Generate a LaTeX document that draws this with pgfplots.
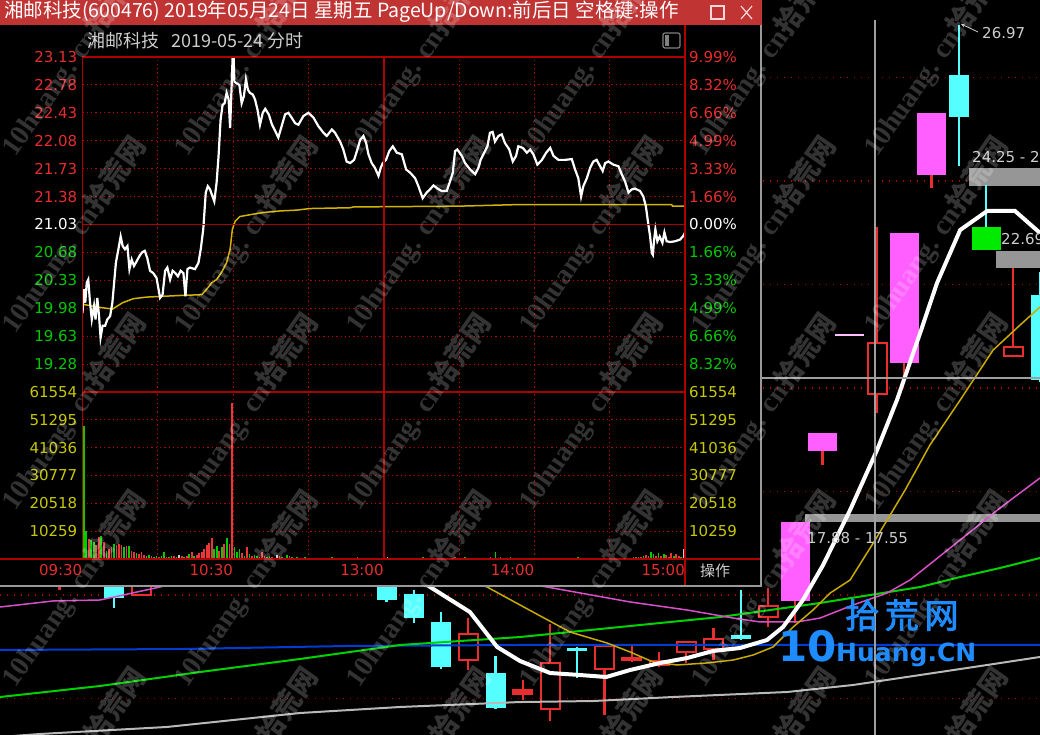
\documentclass[border=0pt]{standalone}
\usepackage{fontspec}
\setmainfont{DejaVu Sans}
\newfontfamily\cjk{Noto Sans CJK SC}
\newfontfamily\cjkb[FakeBold=2.5]{Noto Sans CJK SC}
\newfontfamily\wm{Liberation Serif}
\usepackage{pgfplots}
\pgfplotsset{compat=1.18}

\definecolor{titlered}{RGB}{192,52,52}
\definecolor{frame}{RGB}{175,0,0}
\definecolor{lred}{RGB}{230,45,45}
\definecolor{lgreen}{RGB}{0,200,0}
\definecolor{lyel}{RGB}{200,200,0}
\definecolor{lgray}{RGB}{205,205,205}
\definecolor{avgc}{RGB}{210,180,0}
\definecolor{vred}{RGB}{235,55,55}
\definecolor{vgreen}{RGB}{0,205,0}
\definecolor{cred}{RGB}{235,45,45}
\definecolor{ccyan}{RGB}{85,255,255}
\definecolor{cmag}{RGB}{255,95,255}
\definecolor{cgreen}{RGB}{0,235,0}
\definecolor{ma2}{RGB}{200,170,0}
\definecolor{ma3}{RGB}{215,80,200}
\definecolor{ma4}{RGB}{0,210,0}
\definecolor{ma5}{RGB}{0,60,210}
\definecolor{ma6}{RGB}{185,185,185}
\definecolor{gapgray}{RGB}{150,150,150}
\definecolor{logo}{RGB}{30,140,255}

\newcommand\lab{\fontsize{15}{15}\selectfont}

\pgfplotsset{
  popaxis/.style={scale only axis, width=602.5pt, xmin=0, xmax=240,
    axis line style={draw=none}, major tick length=0pt, clip=true, scaled y ticks=false},
  popgrid/.style={draw=frame, line width=1pt, dash pattern=on 1.3pt off 3pt},
}

\begin{document}
\begin{tikzpicture}[x=1pt,y=1pt]
\useasboundingbox (0,0) rectangle (1040,735);
\clip (0,0) rectangle (1040,735);
\fill[black] (0,0) rectangle (1040,735);

% ---------- daily candle chart behind the window ----------
\begin{axis}[at={(0pt,0pt)}, anchor=south west, scale only axis, width=1040pt, height=735pt,
  xmin=-4.183, xmax=33.98, ymin=13.513, ymax=27.444, unbounded coords=jump,
  axis line style={draw=none}, major tick length=0pt, xtick=\empty,
  ytick={14.205,16.166,18.128,20.090,22.052,24.013,25.975}, yticklabels={},
  ymajorgrids, major grid style={draw=frame, line width=1.2pt, dash pattern=on 1.2pt off 5.8pt}]

\fill[gapgray] (axis cs:31.38,23.919) rectangle (axis cs:35,24.260);
\fill[gapgray] (axis cs:32.37,22.365) rectangle (axis cs:35,22.687);
\fill[gapgray] (axis cs:25.36,17.550) rectangle (axis cs:35,17.702);

% wicks
\addplot[cred, line width=2.2pt] coordinates {(-2,16.261) (-2,16.925) (-2,nan) (1,16.147) (1,16.830) (1,nan) (13,14.745) (13,15.730) (13,nan) (15,14.176) (15,14.555) (15,nan) (16,13.778) (16,15.617) (16,nan) (18,13.892) (18,15.219) (18,nan) (19,14.897) (19,15.219) (19,nan) (20,14.802) (20,15.086) (20,nan) (21,14.877) (21,15.294) (21,nan) (22,14.934) (22,15.541) (22,nan) (24,15.560) (24,16.299) (24,nan) (25,15.636) (25,16.053) (25,nan) (26,18.630) (26,18.896) (26,nan) (28,19.62) (28,23.15) (28,nan) (29,20.298) (29,20.564) (29,nan) (30,23.881) (30,24.127) (30,nan) (33,20.677) (33,22.364)};
\addplot[ccyan, line width=2.2pt] coordinates {(0,15.920) (0,17.019) (0,nan) (10,16.034) (10,16.735) (10,nan) (11,15.636) (11,16.261) (11,nan) (12,14.764) (12,15.844) (12,nan) (14,14.006) (14,15.010) (14,nan) (17,14.593) (17,15.181) (17,nan) (23,15.313) (23,16.261) (23,nan) (31,24.298) (31,26.97) (31,nan) (32,23.141) (32,23.938) (32,nan) (34,20.203) (34,22.289)};
% bodies
\addplot[ccyan, line width=20pt] coordinates {(0,16.110) (0,16.830) (0,nan) (10,16.072) (10,16.640) (10,nan) (11,15.730) (11,16.185) (11,nan) (12,14.802) (12,15.655) (12,nan) (14,14.025) (14,14.688) (14,nan) (17,15.105) (17,15.162) (17,nan) (23,15.332) (23,15.408) (23,nan) (31,25.226) (31,26.022) (31,nan) (34,20.241) (34,21.853)};
\addplot[cred, line width=21pt] coordinates {(-2,16.318) (-2,16.830) (-2,nan) (1,16.147) (1,16.735) (1,nan) (13,14.915) (13,15.446) (13,nan) (15,14.271) (15,14.385) (15,nan) (16,13.987) (16,14.897) (16,nan) (18,14.745) (18,15.219) (18,nan) (19,14.915) (19,14.991) (19,nan) (20,14.821) (20,14.934) (20,nan) (21,15.067) (21,15.294) (21,nan) (22,15.124) (22,15.351) (22,nan) (24,15.730) (24,15.977) (24,nan) (28,19.96) (28,20.96) (28,nan) (33,20.677) (33,20.886)};
\addplot[black, line width=17pt] coordinates {(-2,16.356) (-2,16.792) (-2,nan) (1,16.185) (1,16.697) (1,nan) (13,14.953) (13,15.408) (13,nan) (16,14.025) (16,14.859) (16,nan) (18,14.783) (18,15.181) (18,nan) (20,14.859) (20,14.896) (20,nan) (21,15.105) (21,15.256) (21,nan) (22,15.162) (22,15.313) (22,nan) (24,15.768) (24,15.939) (24,nan) (28,19.998) (28,20.922) (28,nan) (33,20.715) (33,20.848)};
\addplot[cmag, line width=29pt] coordinates {(25,16.053) (25,17.550) (25,nan) (26,18.896) (26,19.237) (26,nan) (29,20.564) (29,23.028) (29,nan) (30,24.127) (30,25.302)};
\addplot[cgreen, line width=29pt] coordinates {(32,22.705) (32,23.141)};
\addplot[cmag!40!white, line width=29pt] coordinates {(27,21.08) (27,21.12)};

% moving averages
\addplot[ma6, line width=2pt] coordinates {(-4.18,13.475) (-2.72,13.532) (1.94,13.665) (6.83,13.930) (10.50,14.044) (14.90,14.138) (17.58,14.157) (20.51,14.233) (24.70,14.328) (27.12,14.461) (29.58,14.650) (32.04,14.840) (33.98,14.992)};
\addplot[ma5, line width=2pt] coordinates {(-4.18,15.124) (2.53,15.143) (8.55,15.200) (14.90,15.219) (33.98,15.219)};
\addplot[ma4, line width=2pt] coordinates {(-4.18,14.233) (-0.51,14.442) (3.16,14.707) (6.83,14.954) (10.50,15.219) (14.90,15.370) (18.57,15.560) (22.24,15.749) (25.91,16.015) (29.58,16.318) (31.05,16.507) (32.51,16.678) (33.98,16.868)};
\addplot[ma3, line width=1.5pt] coordinates {(-4.18,15.939) (-2.24,16.053) (-0.51,16.072) (1.69,16.318) (4.99,16.735) (8.66,16.830) (13.06,16.545) (15.89,16.318) (18.94,16.034) (21.03,15.882) (22.72,15.730) (23.71,15.655) (25.06,15.655) (25.91,15.730) (27.12,15.977) (28.37,16.204) (29.21,16.451) (30.68,17.057) (32.51,17.816) (33.98,18.384)};
\addplot[ma2, line width=1.5pt] coordinates {(13.06,16.451) (13.69,16.318) (14.90,15.977) (16.73,15.465) (18.09,15.257) (18.94,15.086) (19.78,14.897) (20.66,14.840) (21.76,14.878) (22.72,14.934) (23.45,15.029) (24.18,15.181) (24.92,15.560) (25.65,15.882) (26.28,16.204) (27.01,16.451) (27.93,17.209) (29.03,18.157) (29.94,19.009) (31.05,19.862) (32.26,20.810) (33.25,21.284) (33.98,21.625)};
\addplot[white, line width=4pt] coordinates {(11.05,16.545) (11.60,16.318) (13.06,15.844) (14.06,15.181) (14.90,14.915) (16.0,14.688) (17.10,14.650) (18.06,14.612) (18.94,14.745) (20.04,14.878) (21.03,14.972) (21.98,15.105) (22.97,15.162) (23.96,15.313) (24.55,15.560) (25.28,16.072) (26.02,16.735) (27.01,17.777) (28.0,18.915) (28.73,19.862) (29.58,21.132) (30.20,22.080) (31.05,23.085) (32.04,23.445) (33.06,23.445) (33.98,23.028)};
\end{axis}

\draw[gray!75, line width=1.5pt] (875,0) -- (875,715);
\draw[gray!75, line width=1.5pt] (762,357) -- (1040,357);
\draw[lgray, line width=0.8pt, -stealth] (978,703) -- (961,711);
\node[anchor=west, text=lgray, font=\lab, inner sep=0pt] at (982,702) {26.97};
\node[anchor=west, text=lgray, font=\lab, inner sep=0pt] at (972,578) {24.25 - 23.92};
\node[anchor=west, text=lgray, font=\lab, inner sep=0pt] at (1001,496) {22.69 - 22.37};
\node[anchor=west, text=lgray, font=\lab, inner sep=0pt] at (807,197) {17.88 - 17.55};

% ---------- intraday window ----------
\fill[black] (0,149) rectangle (761,735);
\fill[titlered] (0,710) rectangle (762,735);
\node[anchor=west, text=white, inner sep=0pt, font=\cjk\fontsize{19.5}{19.5}\selectfont] at (4,723) {湘邮科技(600476) 2019年05月24日 星期五 PageUp/Down:前后日 空格键:操作};
\draw[white!85!red, line width=1.2pt] (711,716) rectangle (724,729);
\draw[white!85!red, line width=1.2pt] (741,716) -- (752,729) (741,729) -- (752,716);
\node[anchor=west, text=lgray, inner sep=0pt, font=\cjk\fontsize{18}{18}\selectfont] at (87,694) {湘邮科技\hspace{12pt}2019-05-24 分时};
\draw[gray, line width=1.2pt, rounded corners=2pt] (663,687) rectangle (680,702);
\fill[gray] (665,689) rectangle (669,700);

\begin{axis}[popaxis, at={(82.5pt,343pt)}, anchor=south west, height=335pt, ymin=18.93, ymax=23.13,
  xtick={0,30,...,240}, xticklabels={},
  ytick={19.28,19.63,19.98,20.33,20.68,21.03,21.38,21.73,22.08,22.43,22.78,23.13},
  yticklabels={{\color{lgreen}19.28},{\color{lgreen}19.63},{\color{lgreen}19.98},{\color{lgreen}20.33},{\color{lgreen}20.68},{\color{white}21.03},{\color{lred}21.38},{\color{lred}21.73},{\color{lred}22.08},{\color{lred}22.43},{\color{lred}22.78},{\color{lred}23.13}},
  yticklabel style={font=\lab, inner sep=0pt, xshift=-5pt},
  grid=major, major grid style={popgrid}]
\addplot[avgc, line width=1.5pt] coordinates {(0,20.03) (7,19.99) (12,19.97) (16,20.05) (20.3,20.10) (25.6,20.12) (32.2,20.13) (38.8,20.14) (47.5,20.15) (49.5,20.22) (51.5,20.30) (53.4,20.34) (55.4,20.43) (57.4,20.55) (58.8,20.72) (59.7,20.97) (60.8,21.07) (62.7,21.13) (68.1,21.16) (72,21.18) (78.7,21.20) (85.3,21.21) (90.6,21.23) (106.6,21.24) (108,21.25) (150,21.26) (174,21.28) (234.7,21.28) (235,21.26) (240,21.26)};
\addplot[white, line width=2.2pt] coordinates {(0,19.92) (0.6,20.22) (1.1,20.05) (1.7,20.30) (2.3,20.34) (3.0,20.05) (3.7,19.84) (4.6,20.01) (5.2,19.84) (5.9,20.11) (6.6,19.88) (7.2,19.61) (8.0,19.76) (9.0,19.76) (9.9,19.84) (11.0,19.88) (11.9,20.05) (12.6,20.30) (13.3,20.55) (14.3,20.72) (15.2,20.88) (16.0,20.76) (16.9,20.72) (17.9,20.76) (18.7,20.47) (19.6,20.59) (20.5,20.51) (21.6,20.57) (22.6,20.63) (23.7,20.68) (24.8,20.70) (25.8,20.61) (26.9,20.45) (28.2,20.42) (29.5,20.36) (30.9,20.11) (31.9,20.15) (32.9,20.45) (33.8,20.49) (34.9,20.34) (35.9,20.45) (37.0,20.42) (38.0,20.38) (39.1,20.45) (40.2,20.42) (41.0,20.13) (41.8,20.47) (42.8,20.49) (44.8,20.47) (46.2,20.55) (47.1,20.72) (48.1,20.97) (49.1,21.43) (49.9,21.51) (50.8,21.47) (51.7,21.39) (52.5,21.32) (53.4,21.55) (54.2,21.89) (55.0,22.34) (55.8,22.53) (56.6,22.55) (57.4,22.68) (58.2,22.60) (58.8,22.24) (59.4,22.76) (59.8,23.13) (60.2,23.13) (60.5,22.82) (61.4,22.80) (62.5,22.78) (63.4,22.55) (64.3,22.64) (65.1,22.85) (65.9,22.72) (66.7,22.68) (67.8,22.66) (68.7,22.60) (69.7,22.47) (70.7,22.28) (71.8,22.43) (72.8,22.48) (74.2,22.41) (75.5,22.28) (76.8,22.20) (78.0,22.12) (79.3,22.26) (80.7,22.41) (82.0,22.43) (83.3,22.37) (84.7,22.30) (86.0,22.28) (88.0,22.39) (90.0,22.43) (92.0,22.37) (94.0,22.26) (96.0,22.18) (97.3,22.14) (99.3,22.22) (100.6,22.18) (102.6,22.07) (103.9,21.97) (105.2,21.82) (106.6,21.80) (108.2,21.84) (109.5,21.97) (110.6,22.09) (111.9,22.14) (113.0,22.05) (113.9,21.91) (115.2,21.80) (116.5,21.74) (117.9,21.64) (118.8,21.74) (119.6,21.80) (120.9,21.84) (122.2,21.95) (123.6,22.01) (125.2,21.93) (127.2,21.91) (128.9,21.72) (130.5,21.68) (132.5,21.61) (133.8,21.51) (135.5,21.36) (137.1,21.43) (138.4,21.47) (139.8,21.52) (141.4,21.48) (143.1,21.45) (145.1,21.45) (146.4,21.57) (147.5,21.68) (148.4,21.95) (149.3,21.97) (151.1,21.89) (152.4,21.80) (154.4,21.72) (156.4,21.66) (157.7,21.74) (158.6,21.84) (160.0,21.93) (161.3,22.01) (162.3,22.18) (163.4,22.19) (164.3,22.07) (165.7,22.14) (167.0,22.16) (168.3,22.05) (170.0,21.97) (171.4,21.82) (172.7,21.89) (173.6,22.01) (175.4,21.99) (177.0,21.93) (178.3,21.97) (179.6,21.91) (181.2,21.78) (183.0,21.84) (184.7,21.93) (186.3,21.99) (187.6,21.89) (189.6,21.84) (192.2,21.84) (194.9,21.85) (196.2,21.72) (197.5,21.61) (198.6,21.38) (199.5,21.51) (200.9,21.61) (202.2,21.74) (203.5,21.82) (204.8,21.84) (206.2,21.76) (207.2,21.70) (208.2,21.80) (209.5,21.82) (211.5,21.78) (213.5,21.76) (214.8,21.66) (216.1,21.57) (217.5,21.43) (218.8,21.47) (220.1,21.48) (222.1,21.45) (223.4,21.38) (224.4,21.26) (225.4,21.03) (226.1,20.88) (226.8,20.67) (227.2,20.65) (227.7,20.84) (228.2,20.97) (229.0,20.82) (229.9,20.88) (231.0,20.80) (231.8,20.93) (232.7,20.82) (234.1,20.81) (236.1,20.82) (238.0,20.84) (239.4,20.89) (240.0,20.93)};
\end{axis}

\begin{axis}[popaxis, at={(82.5pt,343pt)}, anchor=south west, height=335pt, ymin=18.93, ymax=23.13,
  xtick=\empty, yticklabel pos=right,
  ytick={19.28,19.63,19.98,20.33,20.68,21.03,21.38,21.73,22.08,22.43,22.78,23.13},
  yticklabels={{\color{lgreen}8.32\%},{\color{lgreen}6.66\%},{\color{lgreen}4.99\%},{\color{lgreen}3.33\%},{\color{lgreen}1.66\%},{\color{white}0.00\%},{\color{lred}1.66\%},{\color{lred}3.33\%},{\color{lred}4.99\%},{\color{lred}6.66\%},{\color{lred}8.32\%},{\color{lred}9.99\%}},
  yticklabel style={font=\lab, anchor=west, inner sep=0pt, xshift=4pt}]
\addplot[draw=none] coordinates {(0,21.03)};
\end{axis}

\begin{axis}[popaxis, at={(82.5pt,176pt)}, anchor=south west, height=167pt, ymin=0, ymax=61554,
  xtick={0,30,...,240}, xticklabels={09:30,,10:30,,13:00,,14:00,,15:00},
  xticklabel style={font=\lab, text=lred, anchor=north east, inner sep=0pt, yshift=-5pt},
  ytick={10259,20518,30777,41036,51295,61554},
  yticklabels={10259,20518,30777,41036,51295,61554},
  yticklabel style={font=\lab, text=lyel, inner sep=0pt, xshift=-5pt},
  grid=major, major grid style={popgrid}]
\addplot[ycomb, vgreen, line width=1.7pt] coordinates {(0.5,48870) (1.5,10270) (3.5,6900) (4.5,6270) (7.5,8400) (9.5,3130) (12.5,5640) (16.5,4390) (18.5,4640) (21.5,2260) (25.5,1250) (26.5,1630) (28.5,630) (29.5,1250) (31.5,1000) (32.5,2500) (34.5,880) (35.5,1000) (37.5,630) (40.5,630) (42.5,1880) (44.5,1250) (52.5,3760) (53.5,4640) (55.5,4390) (57.5,7900) (60.5,4390) (61.5,2500) (62.5,3510) (64.5,1250) (66.5,1880) (68.5,1630) (69.5,1250) (73.5,630) (74.5,1000) (79.5,880) (81.5,1380) (83.5,630) (85.5,750) (87.5,400) (88.5,600) (91.5,350) (93.5,500) (94.5,300) (97.5,450) (99.5,600) (100.5,300) (103.5,400) (105.5,550) (108.5,300) (110.5,450) (113.5,350) (115.5,500) (117.5,300) (119.5,400) (122.5,350) (124.5,500) (126.5,300) (129.5,400) (131.5,550) (133.5,350) (135.5,700) (138.5,400) (140.5,300) (142.5,450) (145.5,350) (147.5,500) (150.5,400) (152.5,600) (154.5,350) (157.5,450) (159.5,300) (161.5,500) (164.5,2500) (166.5,600) (168.5,400) (170.5,700) (172.5,350) (175.5,500) (177.5,400) (180.5,300) (182.5,450) (185.5,350) (187.5,500) (190.5,300) (192.5,400) (195.5,350) (197.5,600) (200.5,400) (202.5,300) (205.5,450) (207.5,350) (210.5,400) (212.5,300) (215.5,500) (217.5,450) (219.5,600) (221.5,800) (223.5,1250) (226.5,2500) (227.5,1880) (229.5,2130) (231.5,1880) (235.5,1250) (238.5,630)};
\addplot[ycomb, vred, line width=1.7pt] coordinates {(2.5,7500) (5.5,5000) (6.5,8100) (8.5,6270) (10.5,3760) (11.5,4390) (13.5,5010) (14.5,5640) (15.5,5010) (17.5,4760) (19.5,3130) (20.5,2500) (22.5,1880) (23.5,2500) (24.5,1380) (27.5,1000) (30.5,880) (33.5,630) (36.5,1250) (39.5,1250) (41.5,1000) (43.5,2500) (45.5,1630) (46.5,2130) (47.5,2500) (48.5,3760) (49.5,5010) (50.5,5890) (51.5,7900) (54.5,3130) (56.5,5640) (58.5,5390) (59.5,57640) (63.5,2130) (65.5,4390) (67.5,1000) (70.5,880) (71.5,2500) (72.5,1000) (75.5,880) (78.5,1000) (80.5,500) (82.5,1000) (84.5,380) (86.5,500) (89.5,350) (90.5,450) (92.5,300) (95.5,550) (96.5,400) (98.5,350) (101.5,500) (102.5,300) (104.5,350) (106.5,450) (107.5,300) (109.5,600) (111.5,350) (112.5,500) (114.5,300) (116.5,400) (118.5,550) (120.5,300) (123.5,450) (125.5,350) (127.5,500) (128.5,300) (130.5,400) (132.5,350) (134.5,450) (136.5,300) (137.5,500) (139.5,350) (141.5,400) (143.5,300) (144.5,450) (146.5,350) (148.5,600) (149.5,400) (151.5,300) (153.5,450) (155.5,350) (156.5,500) (158.5,400) (160.5,350) (162.5,600) (163.5,450) (165.5,400) (167.5,350) (169.5,500) (171.5,300) (173.5,450) (174.5,400) (176.5,350) (178.5,500) (179.5,300) (181.5,450) (183.5,350) (184.5,300) (186.5,500) (188.5,400) (189.5,350) (191.5,450) (193.5,300) (194.5,400) (196.5,350) (198.5,500) (199.5,400) (201.5,350) (203.5,450) (204.5,300) (206.5,400) (208.5,350) (209.5,300) (211.5,450) (213.5,400) (214.5,350) (216.5,500) (218.5,400) (220.5,650) (222.5,900) (224.5,1630) (225.5,1000) (228.5,1250) (230.5,1250) (232.5,1630) (233.5,750) (234.5,2130) (236.5,1880) (237.5,1000)};
\addplot[ycomb, lgray, line width=1.7pt] coordinates {(38.5,1630) (76.5,500) (77.5,1630) (121.5,700) (239.5,3760)};
\end{axis}

\begin{axis}[popaxis, at={(82.5pt,176pt)}, anchor=south west, height=167pt, ymin=0, ymax=61554,
  xtick=\empty, yticklabel pos=right,
  ytick={10259,20518,30777,41036,51295,61554},
  yticklabels={10259,20518,30777,41036,51295,61554},
  yticklabel style={font=\lab, text=lyel, anchor=west, inner sep=0pt, xshift=4pt}]
\addplot[draw=none] coordinates {(0,0)};
\end{axis}

\draw[frame, line width=1.5pt] (82.5,176) -- (82.5,678) -- (685,678);
\draw[frame, line width=1.5pt] (685,149) -- (685,710);
\draw[frame, line width=1.5pt] (82.5,343) -- (685,343);
\draw[frame, line width=1.5pt] (0,176) -- (761,176);
\draw[frame, line width=1.5pt] (82.5,510.5) -- (685,510.5);
\draw[frame, line width=1.5pt] (383.75,176) -- (383.75,678);
\node[anchor=west, text=lgray, inner sep=0pt, font=\cjk\fontsize{15}{15}\selectfont] at (700,164) {操作};
\draw[gray!80, line width=1.5pt] (0,149) -- (761,149) -- (761,710);

% ---------- watermark and logo ----------
\foreach \k in {0,...,5}{\foreach \m in {-2,...,3}{
  \node[rotate=55, anchor=base west, inner sep=0pt, text=white, opacity=0.2,
    font=\wm\bfseries\fontsize{28}{28}\selectfont] at ({15+172.4*\k},{400-177*\m}) {10huang. cn{\cjk 拾荒网}};
}}
\node[anchor=base west, inner sep=0pt, text=logo, font=\cjkb\fontsize{34}{34}\selectfont] at (845,107) {拾\,荒\,网};
\node[anchor=base west, inner sep=0pt, text=logo, font=\bfseries\fontsize{42}{42}\selectfont] at (778,73) {10};
\node[anchor=base west, inner sep=0pt, text=logo, font=\bfseries\fontsize{25}{25}\selectfont] at (836,73) {Huang.CN};
\end{tikzpicture}
\end{document}
